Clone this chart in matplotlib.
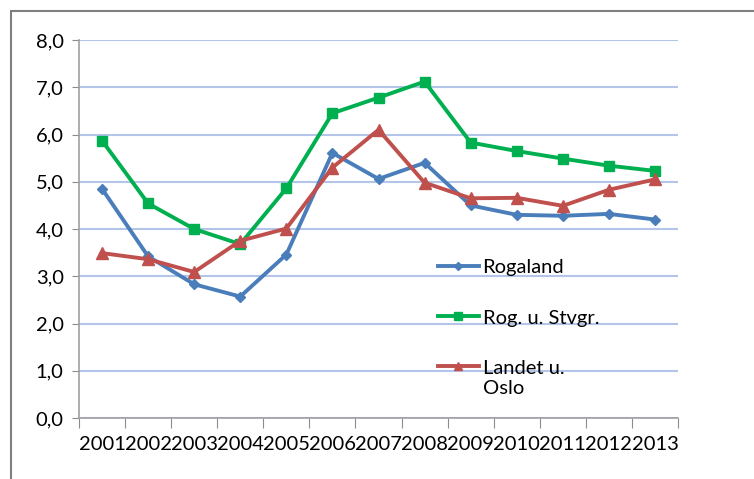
import numpy as np
import matplotlib
matplotlib.use("Agg")
import matplotlib.pyplot as plt
from matplotlib.patches import Rectangle
from matplotlib.legend_handler import HandlerLine2D

plt.rcParams['font.family'] = ['Lato', 'DejaVu Sans']

years = ["2001", "2002", "2003", "2004", "2005", "2006", "2007",
         "2008", "2009", "2010", "2011", "2012", "2013"]
rogaland = [4.85, 3.42, 2.83, 2.57, 3.46, 5.61, 5.06, 5.40, 4.50, 4.30, 4.28, 4.32, 4.20]
rog_u_stvgr = [5.87, 4.54, 4.00, 3.68, 4.86, 6.45, 6.78, 7.12, 5.83, 5.65, 5.49, 5.34, 5.23]
landet_u_oslo = [3.49, 3.36, 3.09, 3.75, 4.01, 5.30, 6.10, 4.98, 4.65, 4.66, 4.49, 4.83, 5.05]


# legg legendestreken på første tekstlinje (som i Excel)
class FirstLineHandler(HandlerLine2D):
    def create_artists(self, legend, orig_handle, xdescent, ydescent,
                       width, height, fontsize, trans):
        return super().create_artists(legend, orig_handle, xdescent,
                                      ydescent - 1.2 * fontsize, width, height,
                                      fontsize, trans)


fig = plt.figure(figsize=(7.54, 4.79), dpi=100)
ax = fig.add_axes([79 / 754, 1 - 418 / 479, 599 / 754, 378 / 479])

# ytre ramme
fig.patches.append(Rectangle((11 / 754, -0.1), 1.2, 1 - 11 / 479 + 0.1,
                             transform=fig.transFigure, fill=False,
                             edgecolor="#7f7f7f", linewidth=1.5))

x = np.arange(len(years))
ax.plot(x, rogaland, color="#4a7ebb", lw=2.8, marker="D", ms=5.5, label="Rogaland")
ax.plot(x, rog_u_stvgr, color="#00b050", lw=2.8, marker="s", ms=7.5, label="Rog. u. Stvgr.")
l3, = ax.plot(x, landet_u_oslo, color="#c0504d", lw=2.8, marker="^", ms=8,
              label="Landet u.\nOslo")

fs = 14.5
ax.set_xlim(-0.5, len(years) - 0.5)
ax.set_ylim(0, 8)
ax.set_yticks(np.arange(0, 9, 1))
ax.set_yticklabels([f"{v:.1f}".replace(".", ",") for v in range(9)], fontsize=fs)
ax.set_xticks(np.arange(-0.5, len(years), 1))
ax.set_xticklabels([])
ax.set_xticks(x, minor=True)
ax.set_xticklabels(years, minor=True, fontsize=fs)
ax.tick_params(axis="x", which="major", length=7, color="#8c8c8c")
ax.tick_params(axis="x", which="minor", length=0, pad=13)
ax.tick_params(axis="y", length=5, color="#8c8c8c", pad=6)

ax.grid(axis="y", color="#b4c5ea", lw=1.5)
ax.set_axisbelow(True)
for s in ["top", "right"]:
    ax.spines[s].set_visible(False)
for s in ["left", "bottom"]:
    ax.spines[s].set_color("#a0a0a0")
    ax.spines[s].set_linewidth(1.2)

ax.legend(loc="upper left", bbox_to_anchor=(0.583, 0.447), frameon=False,
          fontsize=fs, handlelength=2.0, handletextpad=0.2, markerscale=0.7,
          labelspacing=1.65, borderpad=0,
          handler_map={l3: FirstLineHandler()})

fig.savefig("out.png", dpi=100)
